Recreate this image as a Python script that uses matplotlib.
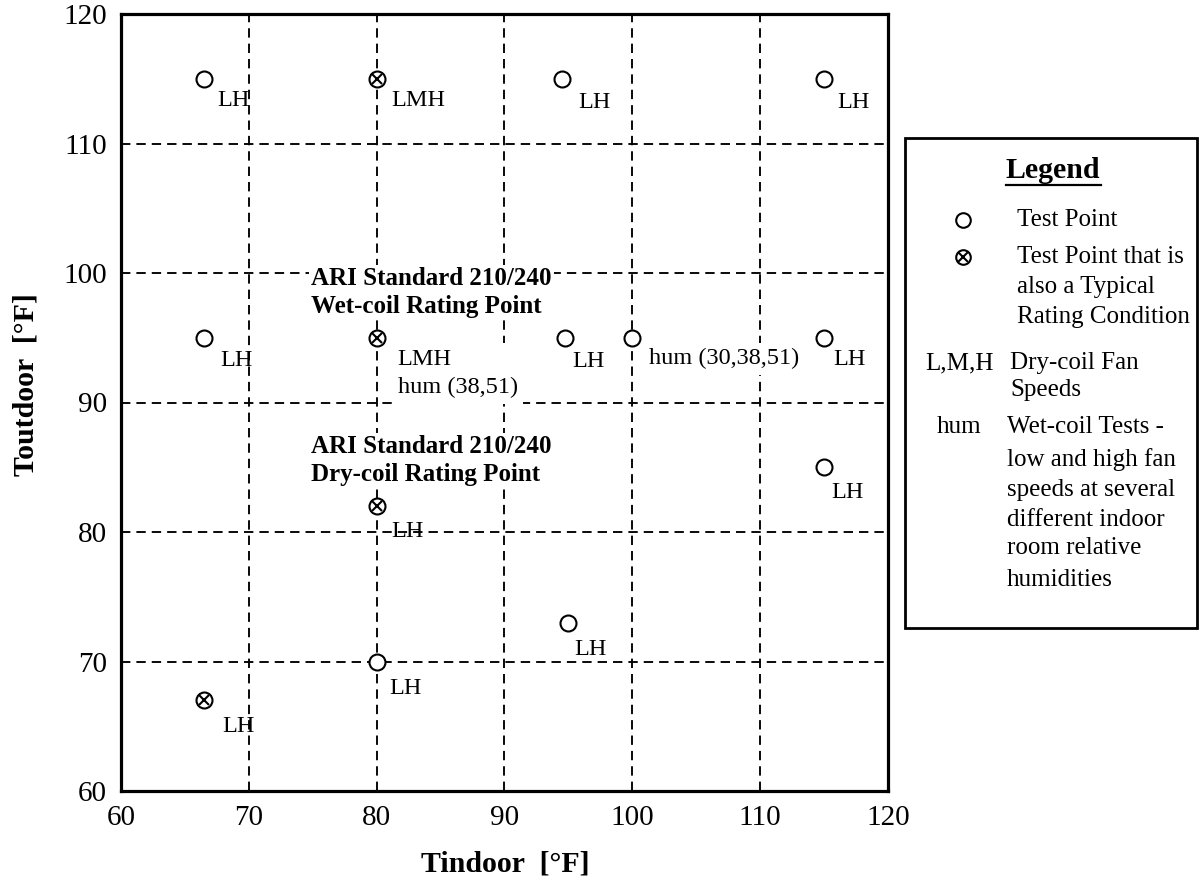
import matplotlib
matplotlib.use("Agg")
import matplotlib.pyplot as plt
from matplotlib.patches import Rectangle

plt.rcParams['font.family'] = ['Liberation Serif', 'DejaVu Serif']

# ---------------- data ----------------
tin = [66.5, 80, 94.5, 115, 66.5, 80, 94.7, 100, 115, 115, 80, 95, 80, 66.5]
tout = [115, 115, 115, 115, 95, 95, 95, 95, 95, 85, 82, 73, 70, 67]
typical = [False, True, False, False, False, True, False, False, False, False, True, False, False, True]
point_labels = ["LH", "LMH", "LH", "LH", "LH", "LMH\nhum (38,51)", "LH", "hum (30,38,51)",
                "LH", "LH", "LH", "LH", "LH", "LH"]
x_ticks = [60, 70, 80, 90, 100, 110, 120]
y_ticks = [60, 70, 80, 90, 100, 110, 120]
x_title = "Tindoor  [°F]"
y_title = "Toutdoor  [°F]"
wet_note = "ARI Standard 210/240\nWet-coil Rating Point"
dry_note = "ARI Standard 210/240\nDry-coil Rating Point"

W, H = 1201, 882
fig = plt.figure(figsize=(W / 100, H / 100), dpi=100)

def fx(px):
    return px / W

def fy(py):
    return 1 - py / H

ax = fig.add_axes([fx(121), fy(791), (767) / W, 777 / H])
ax.set_xlim(60, 120)
ax.set_ylim(60, 120)
ax.set_xticks(x_ticks)
ax.set_yticks(y_ticks)
ax.tick_params(length=0, labelsize=21, pad=10)
for s in ax.spines.values():
    s.set_linewidth(2.3)
    s.set_color('black')
ax.grid(True, color='black', linestyle=(0, (5, 3.2)), linewidth=1.35, zorder=0)
ax.set_axisbelow(True)

# label offsets in pixels (dx right, dy down) for the label's left/center
offsets = [(13, 22), (15, 22), (16, 24), (13, 24), (16, 23), (21, 36), (8, 24), (17, 21),
           (9, 22), (7, 25), (15, 25), (6, 27), (13, 27), (18, 26)]

for x, y, t, lab, (dx, dy) in zip(tin, tout, typical, point_labels, offsets):
    ax.plot([x], [y], marker='o', ms=11.5, mfc='white', mec='black', mew=1.5,
            linestyle='none', zorder=4)
    if t:
        ax.plot([x], [y], marker='x', ms=7.5, mec='black', mew=1.5,
                linestyle='none', zorder=5)
    bb = dict(fc='white', ec='none', pad=4) if 'hum' in lab else None
    ax.annotate(lab, (x, y), xytext=(dx * 0.72, -dy * 0.72), textcoords='offset points',
                ha='left', va='center', fontsize=17.5, linespacing=1.45,
                bbox=bb, zorder=3)

# bold notes with white background (break grid lines)
ax.text(74.9, 98.5, wet_note, ha='left', va='center', fontsize=18, fontweight='bold',
        linespacing=1.3, bbox=dict(fc='white', ec='none', pad=1.5), zorder=3)
ax.text(74.9, 85.5, dry_note, ha='left', va='center', fontsize=18, fontweight='bold',
        linespacing=1.3, bbox=dict(fc='white', ec='none', pad=1.5), zorder=3)

fig.text(fx(505), fy(864), x_title, ha='center', va='center', fontsize=21.5, fontweight='bold')
fig.text(fx(26), fy(385), y_title, ha='center', va='center', fontsize=21.5, fontweight='bold',
         rotation=90)

# ---------------- legend box ----------------
lx0, lx1, ly0, ly1 = 905, 1197, 138, 628
fig.patches.append(Rectangle((fx(lx0), fy(ly1)), (lx1 - lx0) / W, (ly1 - ly0) / H,
                             transform=fig.transFigure, fill=False, ec='black', lw=2.0))
fig.text(fx(1053), fy(170), "Legend", ha='center', va='center', fontsize=21.5,
         fontweight='bold')
fig.add_artist(plt.Line2D([fx(1006), fx(1101)], [fy(185), fy(185)], color='black', lw=1.6))

fig.add_artist(plt.Line2D([fx(963)], [fy(220)], marker='o', ms=10.5, mfc='white', mec='black',
                          mew=1.5, linestyle='none'))
fig.add_artist(plt.Line2D([fx(963)], [fy(257)], marker='o', ms=10.5, mfc='white', mec='black',
                          mew=1.5, linestyle='none'))
fig.add_artist(plt.Line2D([fx(963)], [fy(257)], marker='x', ms=6.5, mec='black',
                          mew=1.5, linestyle='none'))

legend_rows = [
    (1017, 220, "Test Point"),
    (1017, 257, "Test Point that is"),
    (1017, 287, "also a Typical"),
    (1017, 317, "Rating Condition"),
    (925, 363, "L,M,H"),
    (1010, 363, "Dry-coil Fan"),
    (1010, 390, "Speeds"),
    (937, 427, "hum"),
    (1007, 427, "Wet-coil Tests -"),
    (1007, 460, "low and high fan"),
    (1007, 490, "speeds at several"),
    (1007, 520, "different indoor"),
    (1007, 548, "room relative"),
    (1007, 580, "humidities"),
]
for x, y, t in legend_rows:
    fig.text(fx(x), fy(y), t, ha='left', va='center', fontsize=18)

fig.savefig("out.png", dpi=100)
